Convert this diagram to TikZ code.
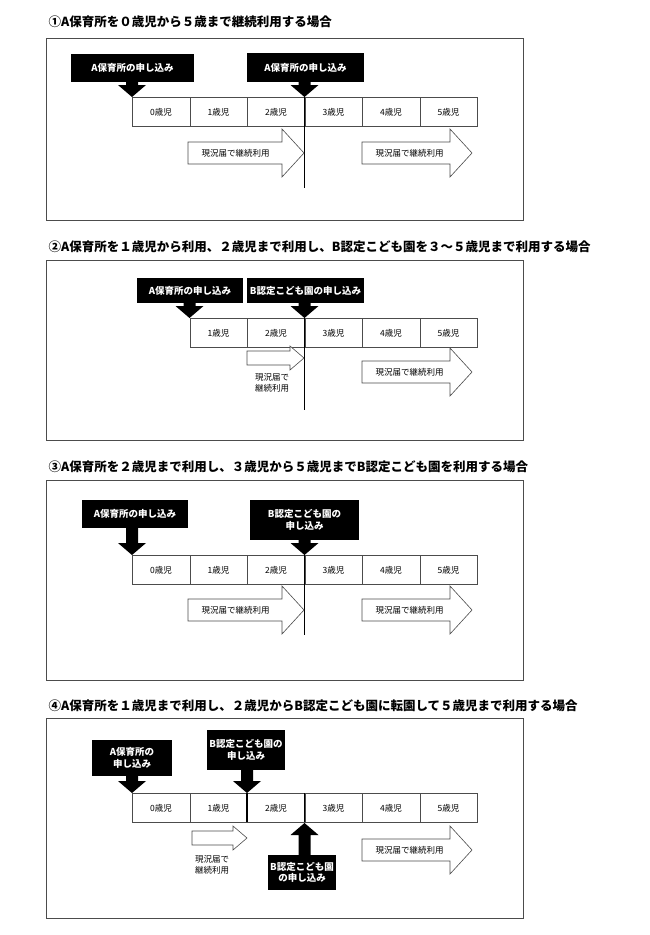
\documentclass[tikz,border=0pt]{standalone}
\usepackage{fontspec}
\setmainfont{Noto Sans CJK JP}
\usetikzlibrary{positioning}

% fat outlined arrow: x1, x2, y centre, half body, half head, head start
\newcommand\usearrow[6]{%
  \draw[fill=white, draw=black!70] (#1,#3-#4) -- (#6,#3-#4) -- (#6,#3-#5) -- (#2,#3)
    -- (#6,#3+#5) -- (#6,#3+#4) -- (#1,#3+#4) -- cycle;}
% black pointer: x, y start, y tip
\newcommand\pointer[3]{%
  \fill (#1-6,#2) -- (#1+6,#2) -- (#1+6,{#3-(#3-#2)/abs(#3-#2)*12}) -- (#1+14,{#3-(#3-#2)/abs(#3-#2)*12})
    -- (#1,#3) -- (#1-14,{#3-(#3-#2)/abs(#3-#2)*12}) -- (#1-6,{#3-(#3-#2)/abs(#3-#2)*12}) -- cycle;}

\begin{document}
\begin{tikzpicture}[x=1pt, y=-1pt, semithick]

    \tikzset{title/.style={anchor=west, font=\bfseries\fontsize{12.5}{14}\selectfont},
             frame/.style={draw=black!70, thick},
             cell/.style={draw=black!70, minimum width=57.5pt, minimum height=29pt, anchor=north west,
                          inner sep=0pt, font=\fontsize{8.5}{10}\selectfont},
             apply/.style={fill=black, text=white, align=center, inner sep=0pt,
                           font=\bfseries\fontsize{9.5}{11.5}\selectfont},
             note/.style={font=\fontsize{8.5}{10.5}\selectfont, align=center}}

    \useasboundingbox (0,0) rectangle (650,935);

    % (1)
    \node[title] (t1) at (45,22) {①A保育所を０歳児から５歳まで継続利用する場合};
    \draw[frame] (46,38) rectangle (523,220);
    \foreach \i in {0,...,5}
        \node[cell] (a\i) at (132+57.5*\i,97) {\i 歳児};
    \draw[very thick] (304.5,85) -- (304.5,188);
    \usearrow{188}{304}{153}{11}{24}{282}
    \usearrow{362}{472}{153}{11}{24}{450}
    \node[note, anchor=west] (n1) at (198,153) {現況届で継続利用};
    \node[note, anchor=west] (n2) at (372,153) {現況届で継続利用};
    \node[apply, minimum width=123pt, minimum height=28pt] (p1) at (132.5,68) {A保育所の申し込み};
    \node[apply, minimum width=117pt, minimum height=29pt] (p2) at (305.5,67.5) {A保育所の申し込み};
    \pointer{132}{82}{97}
    \pointer{304.5}{82}{97}

    % (2)
    \node[title] (t2) at (45,247) {②A保育所を１歳児から利用、２歳児まで利用し、B認定こども園を３～５歳児まで利用する場合};
    \draw[frame] (46,260) rectangle (523,440);
    \foreach \i in {1,...,5}
        \node[cell] (b\i) at (132+57.5*\i,318) {\i 歳児};
    \draw[very thick] (304.5,303) -- (304.5,410);
    \usearrow{247}{304}{358}{7}{12}{290}
    \usearrow{362}{472}{372}{11}{24}{450}
    \node[note] (n3) at (272,383) {現況届で\\継続利用};
    \node[note, anchor=west] (n4) at (372,372) {現況届で継続利用};
    \node[apply, minimum width=106pt, minimum height=25pt] (q1) at (190,290.5) {A保育所の申し込み};
    \node[apply, minimum width=117pt, minimum height=25pt] (q2) at (305.5,290.5) {B認定こども園の申し込み};
    \pointer{189.5}{303}{318}
    \pointer{304.5}{303}{318}

    % (3)
    \node[title] (t3) at (45,467) {③A保育所を２歳児まで利用し、３歳児から５歳児までB認定こども園を利用する場合};
    \draw[frame] (46,480) rectangle (523,680);
    \foreach \i in {0,...,5}
        \node[cell] (c\i) at (132+57.5*\i,555) {\i 歳児};
    \draw[very thick] (304.5,540) -- (304.5,635);
    \usearrow{188}{304}{610}{11}{24}{282}
    \usearrow{362}{472}{610}{11}{24}{450}
    \node[note, anchor=west] (n5) at (198,610) {現況届で継続利用};
    \node[note, anchor=west] (n6) at (372,610) {現況届で継続利用};
    \node[apply, minimum width=106pt, minimum height=28pt] (r1) at (135,514) {A保育所の申し込み};
    \node[apply, minimum width=109pt, minimum height=40pt] (r2) at (304.5,520) {B認定こども園の\\申し込み};
    \pointer{132}{528}{555}
    \pointer{304.5}{540}{555}

    % (4)
    \node[title] (t4) at (45,706) {④A保育所を１歳児まで利用し、２歳児からB認定こども園に転園して５歳児まで利用する場合};
    \draw[frame] (46,718) rectangle (523,918);
    \foreach \i in {0,...,5}
        \node[cell] (d\i) at (132+57.5*\i,793) {\i 歳児};
    \draw[very thick] (247,793) -- (247,822);
    \draw[very thick] (304.5,793) -- (304.5,822);
    \usearrow{192}{247}{838}{7}{12}{233}
    \usearrow{362}{472}{850}{11}{24}{450}
    \node[note] (n7) at (212,865) {現況届で\\継続利用};
    \node[note, anchor=west] (n8) at (372,850) {現況届で継続利用};
    \node[apply, minimum width=80pt, minimum height=36pt] (s1) at (132,758) {A保育所の\\申し込み};
    \node[apply, minimum width=78pt, minimum height=40pt] (s2) at (246,750) {B認定こども園の\\申し込み};
    \node[apply, minimum width=68pt, minimum height=35pt] (s3) at (302,872.5) {B認定こども園\\の申し込み};
    \pointer{132}{776}{793}
    \pointer{247}{770}{793}
    \pointer{304.5}{855}{823}
\end{tikzpicture}
\end{document}
